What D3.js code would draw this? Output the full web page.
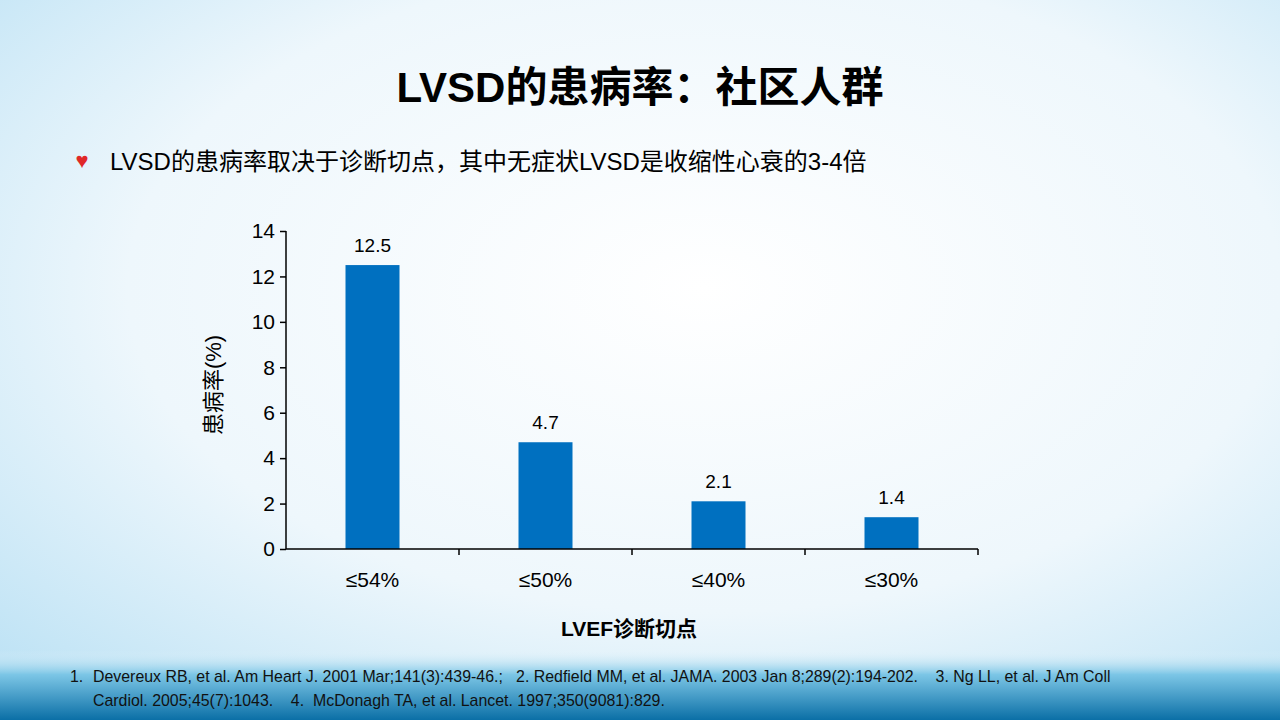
<!DOCTYPE html>
<html><head><meta charset="utf-8">
<script src="https://cdn.jsdelivr.net/npm/d3@7"></script>
<style>body{margin:0;overflow:hidden}svg{display:block}text{white-space:pre}</style>
</head><body>
<svg id="c" width="1280" height="720"></svg>
<script>
const categories = ["≤54%", "≤50%", "≤40%", "≤30%"];
const values = [12.5, 4.7, 2.1, 1.4];
const yTicks = [0, 2, 4, 6, 8, 10, 12, 14];
const cjk = "Arial, 'Liberation Sans', 'Noto Sans CJK SC', sans-serif";

const svg = d3.select("#c");
const defs = svg.append("defs");
const bg = defs.append("radialGradient").attr("id", "bg").attr("cx", "55%").attr("cy", "40%").attr("r", "75%");
bg.append("stop").attr("offset", "0%").attr("stop-color", "#ffffff");
bg.append("stop").attr("offset", "60%").attr("stop-color", "#eef7fc");
bg.append("stop").attr("offset", "100%").attr("stop-color", "#bfe3f5");
svg.append("rect").attr("width", 1280).attr("height", 720).attr("fill", "url(#bg)");
const sea = defs.append("linearGradient").attr("id", "sea").attr("x1", 0).attr("y1", 0).attr("x2", 0).attr("y2", 1);
sea.append("stop").attr("offset", "0%").attr("stop-color", "#e8f5fb").attr("stop-opacity", 0);
sea.append("stop").attr("offset", "35%").attr("stop-color", "#7cc6e6");
sea.append("stop").attr("offset", "100%").attr("stop-color", "#0b6fa6");
svg.append("rect").attr("y", 650).attr("width", 1280).attr("height", 70).attr("fill", "url(#sea)");

svg.append("text").attr("x", 640).attr("y", 102).attr("text-anchor", "middle")
  .attr("font-family", cjk).attr("font-size", 42).attr("font-weight", "bold").text("LVSD的患病率：社区人群");

svg.append("text").attr("x", 82).attr("y", 168).attr("text-anchor", "middle").attr("font-size", 22)
  .attr("fill", "#e02828").text("♥");
svg.append("text").attr("x", 110).attr("y", 170).attr("font-family", cjk).attr("font-size", 24)
  .text("LVSD的患病率取决于诊断切点，其中无症状LVSD是收缩性心衰的3-4倍");

const x = d3.scaleBand().domain(categories).range([286, 978]);
const y = d3.scaleLinear().domain([0, 14]).range([549, 231]);

const g = svg.append("g");
g.selectAll("rect.bar").data(values).join("rect").attr("class", "bar")
  .attr("x", (d, i) => x(categories[i]) + x.bandwidth() / 2 - 27).attr("width", 54)
  .attr("y", d => y(d)).attr("height", d => y(0) - y(d)).attr("fill", "#0070c0");
g.selectAll("text.val").data(values).join("text").attr("class", "val")
  .attr("x", (d, i) => x(categories[i]) + x.bandwidth() / 2).attr("y", d => y(d) - 13)
  .attr("text-anchor", "middle").attr("font-family", cjk).attr("font-size", 19).text(d => d);

const ya = g.append("g").attr("transform", "translate(286,0)")
  .call(d3.axisLeft(y).tickValues(yTicks).tickSize(6).tickPadding(5));
ya.selectAll("text").attr("font-family", cjk).attr("font-size", 21).attr("fill", "#000");
ya.selectAll("line,path").attr("stroke", "#000").attr("stroke-width", 1.5);
ya.select("path").attr("d", "M0," + y(14) + "V" + y(0));

const xa = g.append("g").attr("transform", "translate(0,549)");
xa.append("line").attr("x1", 286).attr("x2", 978).attr("stroke", "#000").attr("stroke-width", 1.5);
xa.selectAll("line.t").data(categories).join("line").attr("class", "t")
  .attr("x1", d => x(d) + x.bandwidth()).attr("x2", d => x(d) + x.bandwidth())
  .attr("y1", 0).attr("y2", 6).attr("stroke", "#000").attr("stroke-width", 1.5);
xa.selectAll("text").data(categories).join("text")
  .attr("x", d => x(d) + x.bandwidth() / 2).attr("y", 38).attr("text-anchor", "middle")
  .attr("font-family", cjk).attr("font-size", 21).text(d => d);

svg.append("text").attr("transform", "translate(221,385) rotate(-90)").attr("text-anchor", "middle")
  .attr("font-family", cjk).attr("font-size", 22).text("患病率(%)");
svg.append("text").attr("x", 629).attr("y", 636).attr("text-anchor", "middle")
  .attr("font-family", cjk).attr("font-size", 21).attr("font-weight", "bold").text("LVEF诊断切点");

const refs = svg.append("g").attr("font-family", cjk).attr("font-size", 15.9).attr("fill", "#111");
refs.append("text").attr("x", 70).attr("y", 682).text("1.");
refs.append("text").attr("x", 93).attr("y", 682)
  .text("Devereux RB, et al. Am Heart J. 2001 Mar;141(3):439-46.;   2. Redfield MM, et al. JAMA. 2003 Jan 8;289(2):194-202.    3. Ng LL, et al. J Am Coll");
refs.append("text").attr("x", 93).attr("y", 706)
  .text("Cardiol. 2005;45(7):1043.    4.  McDonagh TA, et al. Lancet. 1997;350(9081):829.");
</script>
</body></html>
